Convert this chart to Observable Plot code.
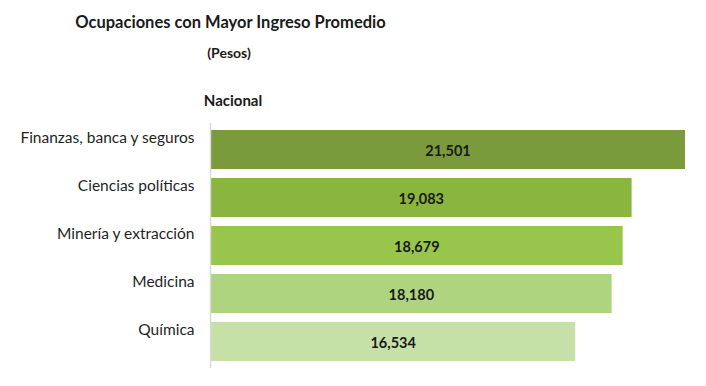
<!DOCTYPE html>
<html>
<head>
<meta charset="utf-8">
<script src="https://cdn.jsdelivr.net/npm/d3@7"></script>
<script src="https://cdn.jsdelivr.net/npm/@observablehq/plot@0.6"></script>
<style>
  html, body { margin: 0; padding: 0; background: #fff; }
  #wrap { width: 706px; height: 386px; position: relative; overflow: hidden; font-family: Lato, "Open Sans", sans-serif; }
  #head { position: relative; height: 118px; }
  .t { position: absolute; white-space: nowrap; transform: translate(-50%, -50%); color: #1a1a1a; font-weight: bold; }
  #title { left: 230.5px; top: 22px; font-size: 16.5px; }
  #sub { left: 229px; top: 52px; font-size: 14px; }
  #nac { left: 233px; top: 100px; font-size: 15px; }
</style>
</head>
<body>
<div id="wrap">
  <div id="head">
    <div class="t" id="title">Ocupaciones con Mayor Ingreso Promedio</div>
    <div class="t" id="sub">(Pesos)</div>
    <div class="t" id="nac">Nacional</div>
  </div>
  <div id="chart"></div>
</div>
<script>
const categories = ["Finanzas, banca y seguros", "Ciencias políticas", "Minería y extracción", "Medicina", "Química"];
const values = [21501, 19083, 18679, 18180, 16534];
const colors = ["#7b9a3c", "#8ab53e", "#98c64c", "#afd480", "#c7e0a8"];

const data = categories.map((c, i) => ({category: c, value: values[i], color: colors[i]}));
const fmt = d3.format(",");

const chart = Plot.plot({
  width: 706,
  height: 268,
  marginTop: 5,
  marginBottom: 18,
  marginLeft: 210,
  marginRight: 21,
  style: {fontFamily: "Lato, 'Open Sans', sans-serif", background: "#fff"},
  x: {domain: [0, 21501], axis: null},
  y: {domain: categories, axis: null, paddingInner: 0.186, paddingOuter: 0.12},
  marks: [
    Plot.barX(data, {x: "value", y: "category", fill: "color"}),
    Plot.ruleX([0], {stroke: "#d9d9d9", strokeWidth: 1.5}),
    Plot.text(data, {x: 0, y: "category", text: "category", textAnchor: "end", dx: -16, dy: -12, fontSize: 15.5, fill: "#1f1f1f"}),
    Plot.text(data, {x: d => d.value / 2, y: "category", text: d => fmt(d.value), fontSize: 14.5, fontWeight: "bold", fill: "#1a1a1a", dy: 1})
  ]
});
document.getElementById("chart").appendChild(chart);
</script>
</body>
</html>
